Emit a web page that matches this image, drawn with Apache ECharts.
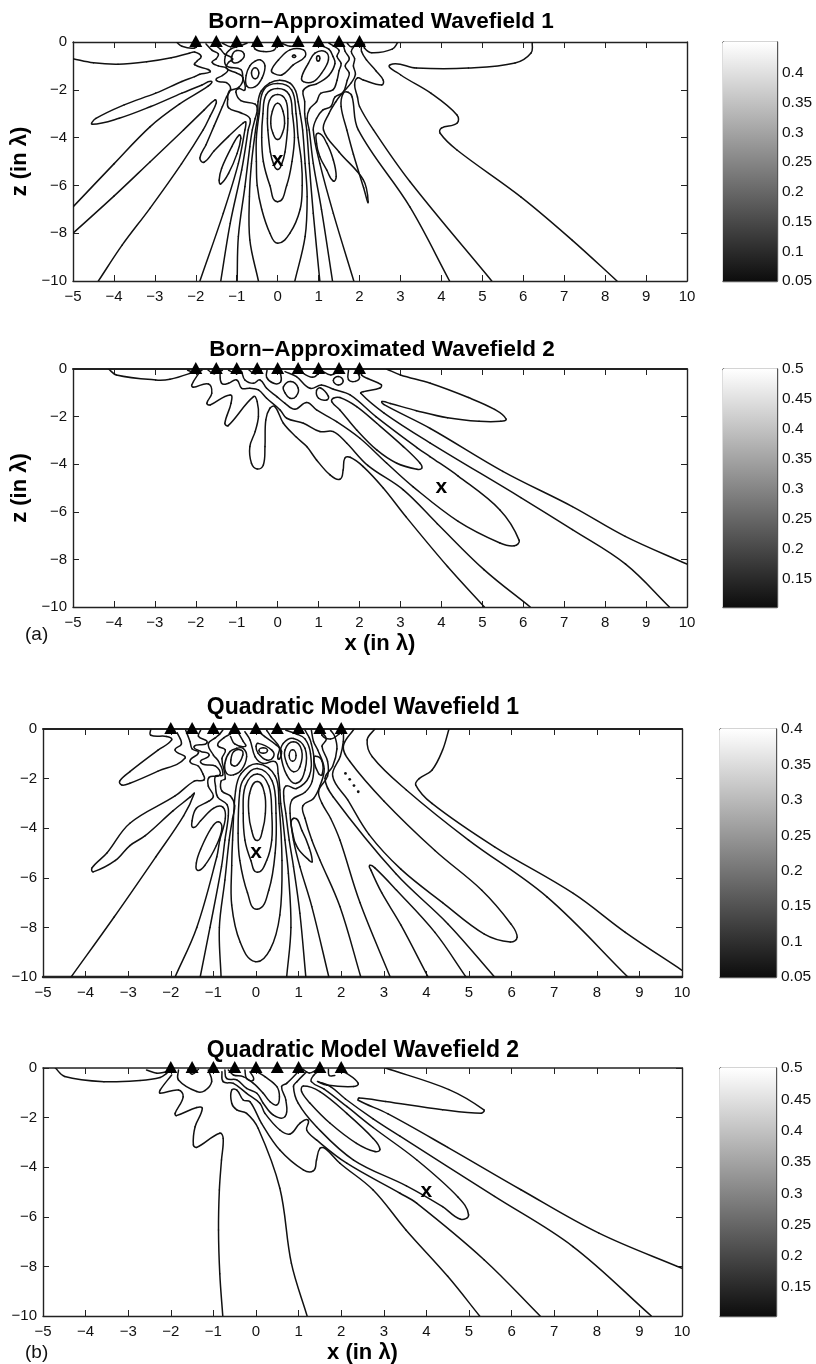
<!DOCTYPE html>
<html><head><meta charset="utf-8">
<script src="https://cdn.jsdelivr.net/npm/echarts@6/dist/echarts.min.js"></script>
<style>html,body{margin:0;padding:0;background:#fff}#c{width:816px;height:1364px}</style>
</head><body><div id="c"></div>
<script>
const xTicks=[-5,10], zTicks=[-10,0];
const sourceX=[-2,-1.5,-1,-.5,0,.5,1,1.5,2];
const titles=['Born–Approximated Wavefield 1','Born–Approximated Wavefield 2','Quadratic Model Wavefield 1','Quadratic Model Wavefield 2'];
const focus=[[0,-5],[4,-5],[0,-5],[4,-5]];
const cbRange=[[0.05,0.452],[0.102,0.5],[0.05,0.4],[0.104,0.5]];
const cbTicks=[
 [0.05,0.1,0.15,0.2,0.25,0.3,0.35,0.4],
 [0.15,0.2,0.25,0.3,0.35,0.4,0.45,0.5],
 [0.05,0.1,0.15,0.2,0.25,0.3,0.35,0.4],
 [0.15,0.2,0.25,0.3,0.35,0.4,0.45,0.5]];

const born1Open=[
 [[-5,-.7],[-4.5,-.87],[-3.9,-.93],[-3.2,-.83],[-2.6,-.66],[-2.16,-.47],[-2.03,-.42],[-1.87,-.6],[-1.97,-.8],[-2.03,-.95],[-1.7,-1.15],[-1.65,-1.25],[-1.9,-1.35],[-2.03,-1.45],[-2.34,-1.65],[-2.98,-2.14],[-3.75,-2.63],[-4.44,-3.2],[-4.53,-3.44],[-3.87,-3.19],[-3.1,-2.7],[-2.34,-2.14],[-1.85,-1.8],[-1.62,-1.65],[-1.7,-1.85],[-2.4,-2.6],[-3.12,-3.55],[-4,-5.1],[-5,-6.9]],
 [[-5,-8],[-4,-6.45],[-3.12,-5.02],[-2.3,-3.68],[-1.8,-2.85],[-1.53,-2.42],[-1.5,-2.55],[-1.65,-3.1],[-1.82,-3.68],[-2.35,-5.1],[-3.12,-6.96],[-3.8,-8.5],[-4.38,-10]],
 [[-1.75,-.08],[-1.6,-.35],[-1.45,-.5],[-1.5,-.7],[-1.6,-.85],[-1.45,-1],[-1.22,-1.15],[-1.35,-1.4],[-1.5,-1.6],[-1.25,-1.7],[-1.15,-1.95],[-1.25,-2.3],[-1.35,-2.7],[-1.55,-3.5],[-1.75,-4.3],[-1.9,-4.85],[-1.8,-5.03],[-1.55,-4.55],[-1.2,-3.95],[-.85,-3.4],[-.78,-3.35],[-.8,-3.68],[-.96,-5.08],[-1.33,-7.17],[-1.9,-10]],
 [[-1.55,-.1],[-1.4,-.3],[-1.3,-.5],[-1.1,-.7],[-1.2,-.85],[-1.25,-1.1],[-1,-1.3],[-.85,-1.5],[-.95,-1.9],[-1.18,-2.05],[-1.22,-2.4],[-1.2,-2.75],[-.92,-2.95],[-.68,-3.2],[-.72,-3.68],[-.88,-5.36],[-1.16,-7.59],[-1.39,-10]],
 [[-.75,-.05],[-.9,-.15],[-1.15,-.3],[-1.28,-.6],[-1.25,-1],[-.9,-1.15],[-.85,-1.5],[-.8,-2],[-.95,-1.95],[-1.02,-2.1],[-.9,-2.45],[-.55,-2.6],[-.5,-2.85],[-.55,-3.2],[-.62,-3.68],[-.68,-4.38],[-.8,-6.05],[-.96,-8.14],[-.99,-10]],
 [[-.47,-10],[-.68,-8.28],[-.69,-6.47],[-.64,-5.08],[-.54,-3.68],[-.48,-3],[-.48,-2.5],[-.4,-2.05],[-.2,-1.72],[.05,-1.6],[.3,-1.72],[.44,-2.05],[.5,-2.5],[.55,-3],[.61,-3.68],[.67,-5.08],[.72,-6.47],[.67,-8.14],[.42,-10]],
 [[.9,-.05],[1,-.12],[1.25,-.3],[1.35,-.6],[1.4,-.9],[1.25,-1.4],[.95,-1.75],[.75,-1.85],[.62,-2.05],[.66,-2.5],[.66,-3],[.71,-3.68],[.77,-5.08],[.87,-7.17],[1.03,-10]],
 [[1.25,-.05],[1.35,-.15],[1.5,-.35],[1.45,-.6],[1.55,-.9],[1.5,-1.2],[1.45,-1.6],[1.35,-2],[1.05,-2.15],[.95,-2.5],[.78,-2.8],[.72,-3.2],[.77,-3.68],[.87,-5.08],[1.07,-7],[1.34,-10]],
 [[1.6,-.1],[1.65,-.4],[1.75,-.7],[1.65,-1],[1.75,-1.3],[1.7,-1.6],[1.6,-2.1],[1.4,-2.3],[1.3,-2.7],[1.1,-2.85],[.95,-3.2],[.87,-3.68],[1.03,-5.08],[1.36,-7.17],[1.86,-10]],
 [[1.9,-.1],[1.8,-.4],[1.88,-.7],[1.85,-1],[1.9,-1.35],[1.8,-1.7],[1.55,-2.2],[1.42,-2.5],[1.25,-3],[1.12,-3.68],[1.5,-4.6],[2.09,-5.76],[2.21,-6.68],[2.1,-6.1],[1.85,-4.7],[1.69,-3.68],[1.55,-2.7],[1.6,-2.15],[1.72,-2.1],[1.82,-2.3],[1.97,-3.68],[3.23,-6.9],[4.2,-10]],
 [[2.05,-.1],[2.05,-.4],[2.17,-.75],[2.4,-1.2],[2.58,-1.6],[2.54,-1.8],[2.09,-1.59],[1.95,-1.5],[1.88,-1.8],[1.95,-2.3],[2,-2.7],[2.34,-3.68],[3.23,-5.84],[5.23,-10]],
 [[6.22,0],[6.19,-.46],[5.8,-.88],[4.66,-1.09],[3.39,-1.09],[2.75,-.95],[3,-1.37],[3.75,-2.15],[4.38,-3.05],[4.38,-3.4],[4,-3.6],[3.97,-3.82],[4.38,-4.52],[5.94,-6.48],[7.2,-8.3],[8.29,-10]],
 [[2.94,0],[2.8,-.3],[2.3,-.45],[2.12,-.25],[2.12,-.08]],
 [[-2.47,0],[-2.34,-.18],[-2.03,-.25],[-1.9,-.05]],
 [[-1.35,-.05],[-1.15,-.2],[-.95,-.1]],[[-.6,-.05],[-.55,-.3],[-.35,-.4],[-.1,-.35],[0,-.1]],
 [[.1,-.05],[.3,-.18],[.55,-.12]],[[1.7,-.06],[1.8,-.2],[2,-.06]]
];
const born1Closed=[
 [[0,-2.56],[.13,-2.9],[.17,-3.4],[.12,-3.8],[0,-4.08],[-.12,-3.8],[-.17,-3.4],[-.13,-2.9]],
 [[0,-2.2],[.2,-2.45],[.25,-3.2],[.24,-3.68],[.18,-4.6],[.1,-5.1],[0,-5.33],[-.1,-5.1],[-.18,-4.6],[-.24,-3.68],[-.25,-3.2],[-.2,-2.45]],
 [[0,-1.95],[.28,-2.2],[.36,-3],[.41,-4],[.35,-5],[.22,-6],[0,-6.68],[-.19,-6],[-.35,-5],[-.39,-4],[-.36,-3],[-.28,-2.2]],
 [[0,-1.74],[.34,-2],[.45,-3],[.5,-4],[.58,-5],[.6,-6],[.55,-7],[.3,-8],[0,-8.42],[-.19,-8],[-.39,-7],[-.5,-6],[-.52,-5],[-.52,-4],[-.45,-3],[-.34,-2]],
 [[-.94,-3.89],[-1.12,-4.38],[-1.37,-5.29],[-1.43,-5.78],[-1.39,-5.94],[-1.2,-5.5],[-.99,-4.66],[-.9,-4.03]],
 [[.99,-3.82],[1.2,-4.24],[1.36,-4.94],[1.43,-5.63],[1.36,-5.82],[1.2,-5.36],[1.03,-4.8],[.95,-4.24]],
 [[-.55,-1.08],[-.46,-1.3],[-.55,-1.54],[-.64,-1.3]],
 [[-.42,-.75],[-.31,-1],[-.38,-1.5],[-.55,-1.87],[-.75,-1.85],[-.77,-1.4],[-.68,-1],[-.55,-.8]],
 [[-1,-.36],[-.82,-.5],[-.9,-.78],[-1.08,-.86],[-1.12,-.6]],
 [[-.15,-1.17],[.02,-.75],[.3,-.33],[.63,-.33],[.67,-.61],[.38,-.96],[.1,-1.38],[-.1,-1.31]],
 [[.59,-1.45],[.75,-.89],[.91,-.47],[1.16,-.4],[1.24,-.75],[1.07,-1.31],[.87,-1.66],[.63,-1.66]],
 [[.4,-.54],[.44,-.6],[.4,-.65],[.36,-.6]],
 [[.99,-.58],[1.03,-.68],[.99,-.8],[.95,-.68]]
];

const born2Open=[
 [[-4.13,0],[-3.94,-.25],[-2.98,-.46],[-2.63,-.43],[-2.14,-.18],[-1.98,-.04]],
 [[-1.9,-.11],[-2.1,-.67],[-2.06,-.77],[-1.69,-.63],[-1.61,-1.02],[-1.73,-1.44],[-1.65,-1.51],[-1.16,-1.09],[-1.14,-1.44],[-1.29,-2.28],[-1.21,-2.38],[-.59,-1.16],[-.5,-1.37],[-.47,-2],[-.55,-2.63],[-.68,-3.26],[-.64,-3.96],[-.5,-4.2],[-.35,-4.03],[-.31,-3.26],[-.29,-2.14],[-.19,-1.65],[-.07,-1.58],[.14,-2.28],[.46,-2.87],[.71,-3.26],[.95,-3.82],[1.28,-4.45],[1.52,-4.63],[1.6,-4.24],[1.64,-3.75],[1.77,-3.71],[2.09,-4.1],[2.58,-5],[3.13,-6.2],[4.15,-8.3],[5.05,-10]],
 [[-1.41,-.11],[-1.37,-.6],[-1.2,-.6],[-1,-.46],[-.88,-.81],[-.68,-.81],[-.47,-.88],[-.27,-1.23],[.06,-1.72],[.22,-2.07],[.63,-2.28],[1.03,-2.63],[1.36,-2.63],[1.69,-3.12],[2.2,-4.05],[3.07,-5.08],[3.9,-6.5],[5.04,-8.43],[6.17,-10]],
 [[-.88,-.11],[-.8,-.46],[-.59,-.6],[-.43,-.46],[-.27,-.81],[-.02,-1.16],[.18,-1.44],[.42,-1.69],[.71,-1.41],[.95,-1.72],[1.44,-2.21],[2.01,-2.91],[2.66,-3.95],[3.31,-4.95],[4.41,-6.4],[5.43,-7.31],[5.78,-7.43],[5.9,-7.2],[5.43,-5.92],[4.41,-4.5],[3.72,-3.68],[3.4,-3.3],[2.4,-2],[1.77,-1.09],[1.36,-.85],[1.07,-.67],[.79,-.81],[.46,-.32],[.18,-.11]],
 [[2.66,0],[3,-.25],[3.73,-.6],[4.66,-1.2],[5.3,-1.7],[5.58,-2.1],[5.45,-2.2],[4.92,-2.2],[4.15,-2.05],[3.39,-1.75],[2.75,-1.45],[2.55,-1.37],[2.6,-1.5],[3.73,-2.5],[5.5,-4.3],[7.2,-5.78],[8.49,-7.03],[10,-8.2]],
 [[2.05,-.05],[2.05,-.25],[2.2,-.4],[2.53,-.66],[2.5,-.8],[2.1,-.95],[2.03,-1.02],[2.6,-1.85],[3.72,-3.1],[5.94,-5.4],[7.2,-6.75],[8.5,-8.2],[9.57,-10]],
 [[-.26,-.05],[-.27,-.35],[-.1,-.6],[.07,-.55],[.07,-.2],[.02,-.05]],
 [[1.73,-.05],[1.73,-.45],[1.9,-.52],[2,-.35],[1.9,-.05]],
 [[-2.2,-.05],[-2,-.15],[-1.85,-.05]],[[-1.7,-.05],[-1.55,-.2],[-1.35,-.05]],[[-1.2,-.05],[-1,-.2],[-.9,-.05]],[[-.7,-.05],[-.55,-.2],[-.4,-.05]],
 [[1.05,-.05],[1.3,-.25],[1.55,-.05]],[[.5,-.05],[.85,-.35],[1.05,-.1]]
];
const born2Closed=[
 [[1.36,-1.23],[1.52,-1.2],[1.93,-1.58],[2.42,-2.28],[3.07,-3.26],[3.48,-3.96],[3.52,-4.17],[3.4,-4.21],[2.91,-3.96],[2.42,-3.4],[1.93,-2.56],[1.52,-1.72],[1.32,-1.37]],
 [[1.36,-.48],[1.48,-.32],[1.6,-.5],[1.48,-.67]],
 [[.95,-.9],[1.05,-.8],[1.24,-1.15],[1.2,-1.3],[1,-1.23]],
 [[.14,-.75],[.32,-.53],[.5,-.8],[.45,-1.15],[.3,-1.23],[.18,-1]]
];

const quad1Open=[
 [[-2.47,0],[-2.47,-.25],[-2.1,-.3],[-1.98,-.44],[-2.3,-.85],[-2.96,-1.72],[-3.2,-2.1],[-3.15,-2.26],[-2.96,-2.19],[-2.3,-1.7],[-1.67,-1.18],[-1.9,-.85],[-1.75,-.6],[-1.85,-.15]],
 [[-1.65,-.05],[-1.55,-.5],[-1.5,-.8],[-1.35,-.95],[-1.55,-1.3],[-1.35,-1.5],[-1.25,-1.8],[-1.22,-2.05],[-1.45,-2.1],[-1.9,-2.7],[-2.96,-3.8],[-3.5,-5],[-3.85,-5.6],[-3.82,-5.76],[-3.3,-5.3],[-2.96,-4.7],[-2.6,-4.3],[-1.95,-3.3],[-1.55,-2.75],[-1.45,-2.6],[-1.7,-3.5],[-2.35,-5.15],[-3.33,-7.58],[-4.34,-10]],
 [[-1.9,-10],[-1.39,-8],[-.92,-5.15],[-.85,-4.48],[-.72,-3.6],[-.78,-3.15],[-1,-3.2],[-1.3,-3.7],[-1.47,-3.97],[-1.5,-3.7],[-1.4,-3.2],[-1.1,-2.9],[-1,-2.7],[-1.12,-2.3],[-1.1,-1.95],[-.85,-1.85],[-.95,-1.5],[-1.3,-1.35],[-1.1,-1.05],[-1.3,-.9],[-1.45,-.7],[-1.15,-.55],[-1.35,-.3],[-1.3,-.05]],
 [[-1.31,-10],[-1.08,-8],[-.81,-5.55],[-.73,-4.48],[-.65,-3.5],[-.68,-3.05],[-.9,-2.75],[-.95,-2.3],[-.95,-1.9],[-.78,-1.85],[-.88,-1.3],[-1,-1.05],[-1.12,-.6],[-.95,-.35],[-.85,-.2],[-.78,-.05]],
 [[-.82,-10],[-.86,-8],[-.73,-6.09],[-.63,-4.48],[-.55,-3.6],[-.5,-3.1],[-.6,-2.7],[-.8,-2.5],[-.82,-2.1],[-.72,-2],[-.8,-1.2],[-.72,-.85],[-.9,-.65],[-.75,-.35],[-.6,-.2],[-.5,-.05]],
 [[.72,-10],[.82,-8],[.76,-5.82],[.68,-4.48],[.62,-3.5],[.58,-3],[.56,-2.46],[.52,-1.79],[.45,-1.32],[.17,-1.39],[-.02,-1.12],[-.14,-.44],[-.26,-.11]],
 [[1.17,-10],[1.03,-7.43],[.88,-5.55],[.78,-4.48],[.7,-3.4],[.65,-2.7],[.7,-2.3],[.95,-2.4],[1.25,-1.9],[1.28,-1],[1.15,-.4],[.95,-.2],[.7,-.05]],
 [[1.71,-10],[1.31,-7.16],[1.03,-5.55],[.88,-4.48],[.8,-3.4],[.85,-2.85],[1.15,-2.55],[1.32,-2.1],[1.36,-1.2],[1.3,-.6],[1.25,-.35],[1.15,-.05]],
 [[2.46,-10],[1.97,-7.16],[1.5,-5.28],[1.31,-4.48],[1.15,-3.6],[1.1,-3.1],[1.35,-2.8],[1.5,-2.3],[1.6,-1.6],[1.45,-.85],[1.35,-.5],[1.3,-.05]],
 [[3.15,-10],[2.44,-7],[1.97,-4.48],[1.75,-3.6],[1.55,-3],[1.47,-2.5],[1.68,-1.9],[1.68,-1.3],[1.55,-.7],[1.65,-.4],[1.5,-.05]],
 [[4.04,-10],[3.4,-7.9],[2.95,-6.6],[2.7,-5.7],[2.67,-5.5],[2.79,-5.6],[3.3,-6.5],[4.2,-8.2],[4.93,-10]],
 [[5.6,-10],[4.5,-7.85],[3.28,-5.83],[1.81,-2.73],[1.62,-2],[1.8,-1.5],[1.9,-.8],[1.85,-.3],[1.75,-.05]],
 [[2.3,0],[2.05,-.7],[2.2,-1.3],[3,-2.9],[4.2,-4.9],[5.3,-6.5],[5.98,-7.85],[6.13,-8.4],[5.97,-8.59],[5.36,-8.27],[4.38,-7],[3.4,-5.65],[2.65,-4.25],[2.15,-2.85],[1.8,-1.9],[1.98,-1.1],[2.05,-.5],[2.05,-.05]],
 [[2.79,0],[2.61,-.44],[2.73,-1.12],[3.53,-2.46],[4.99,-4.48],[6.83,-6.77],[8.73,-10]],
 [[4.53,0],[4.38,-.85],[4.13,-1.66],[3.83,-2],[3.75,-2.26],[4.13,-3],[5.6,-4.75],[7.45,-6.63],[8.67,-8.2],[10,-9.73]],
 [[1.6,-.03],[1.55,-.25],[1.75,-.4],[1.95,-.2],[2,-.03]],
 [[-.45,-.05],[-.3,-.5],[-.25,-.7],[-.5,-.6],[-.6,-.3]],
 [[.02,-.05],[.2,-.3],[.48,-.65],[.6,-.9],[.52,-1.2],[.55,-.75],[.35,-.3],[.25,-.05]]
];
const quad1Closed=[
 [[.03,-2.12],[.2,-2.6],[.22,-3.4],[.15,-4.1],[.03,-4.5],[-.1,-4.1],[-.17,-3.4],[-.15,-2.6]],
 [[.03,-1.81],[.3,-2.3],[.37,-3.4],[.37,-4.48],[.25,-5.3],[.03,-5.78],[-.12,-5.3],[-.26,-4.48],[-.3,-3.4],[-.25,-2.3]],
 [[.03,-1.59],[.38,-2.1],[.47,-3.4],[.45,-5],[.3,-6.5],[.03,-7.27],[-.2,-6.6],[-.38,-5.3],[-.42,-4.2],[-.38,-2.5],[-.28,-2]],
 [[.03,-1.4],[.45,-1.9],[.54,-3],[.61,-5.3],[.56,-7.5],[.33,-8.9],[-.02,-9.38],[-.37,-8.6],[-.57,-7.1],[-.57,-5.5],[-.55,-4.48],[-.48,-2.5],[-.35,-1.8]],
 [[-.88,-3.74],[-.8,-4],[-.93,-4.7],[-1.2,-5.5],[-1.37,-5.7],[-1.4,-5.4],[-1.3,-4.85],[-1.05,-4]],
 [[.89,-3.6],[1.08,-4.1],[1.25,-4.8],[1.32,-5.35],[1.25,-5.3],[.98,-4.8],[.86,-4.2]],
 [[-.35,-.85],[-.31,-1.05],[-.44,-1.45],[-.57,-1.45],[-.59,-1.25],[-.52,-.91]],
 [[-.3,-.78],[-.22,-1.12],[-.34,-1.65],[-.53,-1.85],[-.69,-1.79],[-.73,-1.38],[-.61,-.91],[-.45,-.78]],
 [[.17,-.76],[.27,-.87],[.17,-.98],[.07,-.87]],
 [[.05,-.58],[.37,-.85],[.41,-1.12],[.25,-1.25],[.05,-.98],[0,-.71]],
 [[.86,-.84],[.94,-1.07],[.86,-1.3],[.78,-1.07]],
 [[.88,-.51],[1.07,-.85],[1.03,-1.52],[.88,-1.72],[.72,-1.38],[.68,-.85]],
 [[.88,-.38],[1.15,-.78],[1.15,-1.65],[.95,-2.19],[.72,-1.85],[.58,-.98],[.64,-.58]],
 [[1.39,-1.1],[1.55,-1.3],[1.55,-1.85],[1.47,-1.8],[1.36,-1.3]]
];
const quad1Dots=[[2.1,-1.79],[2.2,-2.03],[2.3,-2.28],[2.4,-2.53]];

const quad2Open=[
 [[-4.71,0],[-4.49,-.34],[-3.57,-.55],[-2.72,-.5],[-2.25,-.38],[-2.1,-.22],[-2.02,-.08]],
 [[-2.57,-.08],[-2.33,-.21],[-2.1,-.15]],
 [[-1.98,-.28],[-2.25,-.89],[-2.25,-1.02],[-1.82,-.89],[-1.71,-1.16],[-1.9,-1.83],[-1.87,-1.92],[-1.39,-1.59],[-1.26,-1.63],[-1.43,-2.37],[-1.47,-3.1],[-1.39,-3.2],[-.85,-2.63],[-.77,-2.84],[-.81,-3.71],[-.86,-4.92],[-.88,-6.53],[-.85,-8.3],[-.78,-10]],
 [[-1.82,-.08],[-1.82,-.48],[-1.39,-.95],[-1.2,-.91],[-1.04,-.55],[-1.12,-.08]],
 [[1.2,-10],[.83,-7.87],[.56,-4.85],[.05,-2.43],[-.22,-1.83],[-.45,-1.69],[-.57,-1.42],[-.57,-.89],[-.45,-.89],[-.3,-1.29],[-.14,-1.36],[.13,-2.23],[.56,-3.31],[1.11,-4.11],[1.35,-4.14],[1.42,-3.71],[1.5,-3.24],[1.62,-3.24],[1.97,-3.84],[2.75,-4.92],[3.52,-6.53],[4.5,-8.4],[5.25,-10]],
 [[-.8,-.15],[-.77,-.55],[-.53,-.62],[-.22,-1.02],[.09,-1.42],[.21,-1.83],[.56,-2.5],[.8,-2.66],[1.03,-2.23],[1.22,-2.1],[1.19,-2.5],[1.42,-2.9],[2.13,-3.84],[3.38,-5.05],[3.77,-5.45],[5.36,-7.74],[6.67,-10]],
 [[-.73,-.08],[-.69,-.42],[-.45,-.48],[-.22,-.82],[.02,-1.02],[.17,-1.42],[.41,-1.9],[.68,-1.96],[.7,-1.29],[.6,-.75],[.72,-.62],[1.03,-.08]],
 [[-.65,-.08],[-.53,-.28],[-.3,-.35],[-.06,-.62],[.17,-1.02],[.33,-1.36],[.49,-1.49],[.55,-1.16],[.49,-.75],[.21,-.35],[.02,-.15]],
 [[-.26,-.08],[-.22,-.42],[-.06,-.48],[-.14,-.15]],
 [[1.19,-.15],[.96,-.55],[.88,-.75],[.99,-1.42],[1.42,-2.37],[2.29,-3.71],[3.53,-4.75],[4.38,-5.59],[4.8,-6.1],[4.99,-5.92],[4.74,-5.2],[3.77,-3.7],[2.75,-2.4],[2.13,-1.55],[1.6,-.85],[1.3,-.55],[1.35,-.3],[1.5,-.08]],
 [[1.93,-.08],[2.13,-.22],[2.4,-.62],[2.29,-.75],[1.66,-.69],[1.46,-.55],[1.75,-.75],[2.1,-1.25],[2.75,-2.05],[3.38,-2.75],[5.6,-5.18],[7.44,-7.2],[9.28,-10]],
 [[3.04,0],[4.53,-.87],[5.35,-1.69],[5.29,-1.82],[4.38,-1.68],[3.04,-1.35],[2.42,-1.21],[2.4,-1.3],[3.1,-1.85],[4.5,-3.2],[6.22,-4.91],[8.05,-6.66],[10,-8.08]],
 [[1.7,-.05],[1.72,-.3],[1.85,-.3]],[[1.1,-.05],[1.25,-.2],[1.4,-.1]],[[-1.6,-.05],[-1.5,-.25],[-1.35,-.05]]
];
const quad2Closed=[
 [[1.11,-.73],[1.5,-.95],[2.13,-1.83],[2.75,-2.84],[2.91,-3.28],[2.79,-3.37],[2.36,-3.04],[1.74,-2.23],[1.27,-1.42],[1.07,-.95]]
];

const openSets=[born1Open,born2Open,quad1Open,quad2Open];
const closedSets=[born1Closed,born2Closed,quad1Closed,quad2Closed];
const dotSets=[[],[],quad1Dots,[]];

const plotBox=[[73,42,614,239],[73,369,614,238],[43,729,639,248],[43,1068,639,248]];
const cbBox=[[723,42,54,239],[723,369,54,238],[720,729,56,248],[720,1068,56,248]];
const titleBox=[[376,5,22.5],[377,333,22.5],[358,691,23],[358,1034,23]];
const topWidth=[1.4,2,2,1.6], bottomWidth=[1.4,1.4,2.4,1.4];
const ink='#111', axisInk='#222', font='"Liberation Sans",Arial,sans-serif';
const minus=v=>String(v).replace('-','\u2212');

/* One curve per traced contour: the read points are placed by the axis scales,
   and joined with chord-scaled tangents so tips stay round and do not overshoot. */
function contourSeries(xA,yA,pts,closed){
  const n=pts.length;
  return {type:'custom',coordinateSystem:'cartesian2d',xAxisIndex:xA,yAxisIndex:yA,data:pts,encode:{x:0,y:1},clip:true,silent:true,z:2,
    renderItem:(p,api)=>{
      const i=p.dataIndex;
      if(!closed && i===n-1) return null;
      const at=k=>api.coord(pts[closed?(k+n)%n:Math.max(0,Math.min(n-1,k))]);
      const a=at(i-1),b=at(i),c=at(i+1),d=at(i+2);
      const len=Math.hypot(c[0]-b[0],c[1]-b[1]);
      const tan=(u,v)=>{const dx=v[0]-u[0],dy=v[1]-u[1],l=Math.hypot(dx,dy)||1;return [dx/l,dy/l];};
      const t0=tan(a,c),t1=tan(b,d),k=len*0.36;
      return {type:'bezierCurve',shape:{x1:b[0],y1:b[1],x2:c[0],y2:c[1],
        cpx1:b[0]+t0[0]*k,cpy1:b[1]+t0[1]*k,cpx2:c[0]-t1[0]*k,cpy2:c[1]-t1[1]*k},
        style:{fill:null,stroke:ink,lineWidth:1.5,lineCap:'round'}};
    }};
}

const grid=[],xAxis=[],yAxis=[],series=[],title=[];
plotBox.forEach((b,i)=>{
  const g=grid.length;
  grid.push({left:b[0],top:b[1],width:b[2],height:b[3],outerBoundsMode:'none'});
  const xA=xAxis.length,yA=yAxis.length;
  const axisBase={gridIndex:g,splitLine:{show:false},axisLine:{onZero:false,lineStyle:{color:axisInk,width:1.4}},
    axisTick:{inside:true,length:6,lineStyle:{color:axisInk,width:1}}};
  const xName=(i===1||i===3)?'x (in \u03bb)':'';
  xAxis.push({...axisBase,type:'value',position:'bottom',min:xTicks[0],max:xTicks[1],interval:1,
    axisLine:{onZero:false,lineStyle:{color:axisInk,width:bottomWidth[i]}},
    name:xName,nameLocation:'middle',nameGap:26,nameTextStyle:{fontFamily:font,fontWeight:'bold',fontSize:22,color:'#000'},
    axisLabel:{margin:8,formatter:minus,fontFamily:font,fontSize:15,color:'#111',hideOverlap:false}});
  xAxis.push({...axisBase,type:'value',position:'top',min:xTicks[0],max:xTicks[1],interval:1,
    axisLine:{onZero:false,lineStyle:{color:axisInk,width:topWidth[i]}},axisLabel:{show:false}});
  const zName=i<2?'z (in \u03bb)':'';
  yAxis.push({...axisBase,type:'value',position:'left',min:zTicks[0],max:zTicks[1],interval:2,
    name:zName,nameLocation:'middle',nameRotate:90,nameGap:41,nameTextStyle:{fontFamily:font,fontWeight:'bold',fontSize:22,color:'#000'},
    axisLabel:{margin:6,formatter:minus,fontFamily:font,fontSize:15,color:'#111'}});
  yAxis.push({...axisBase,type:'value',position:'right',min:zTicks[0],max:zTicks[1],interval:2,axisLabel:{show:false}});

  openSets[i].forEach(p=>series.push(contourSeries(xA,yA,p,false)));
  closedSets[i].forEach(p=>series.push(contourSeries(xA,yA,p,true)));
  if(dotSets[i].length) series.push({type:'scatter',xAxisIndex:xA,yAxisIndex:yA,data:dotSets[i],symbol:'circle',symbolSize:2.8,itemStyle:{color:ink,opacity:1},silent:true});
  series.push({type:'scatter',xAxisIndex:xA,yAxisIndex:yA,data:sourceX.map(x=>[x,0]),symbol:'triangle',symbolSize:[13,12],symbolOffset:[0,-1],
     itemStyle:{color:'#000',opacity:1},clip:false,silent:true,z:5});
  series.push({type:'scatter',xAxisIndex:xA,yAxisIndex:yA,data:[focus[i]],symbolSize:1,itemStyle:{color:'rgba(0,0,0,0)',opacity:1},silent:true,z:6,
     label:{show:true,position:'inside',formatter:'x',fontFamily:font,fontWeight:'bold',fontSize:21,color:'#000',opacity:1,offset:[0,-1]}});
  title.push({text:titles[i],left:titleBox[i][0],top:titleBox[i][1],textAlign:'center',textStyle:{fontFamily:font,fontWeight:'bold',fontSize:titleBox[i][2],color:'#000'}});

  const c=cbBox[i],cg=grid.length;
  grid.push({left:c[0],top:c[1],width:c[2],height:c[3],outerBoundsMode:'none'});
  const cx=xAxis.length,cy=yAxis.length;
  const cbLine={onZero:false,lineStyle:{color:'#555',width:1.4}};
  const cbTick={inside:true,length:3,lineStyle:{color:'#555',width:1},customValues:cbTicks[i]};
  xAxis.push({gridIndex:cg,type:'value',position:'bottom',min:0,max:1,axisLabel:{show:false},axisTick:{show:false},splitLine:{show:false},axisLine:cbLine});
  xAxis.push({gridIndex:cg,type:'value',position:'top',min:0,max:1,axisLabel:{show:false},axisTick:{show:false},splitLine:{show:false},axisLine:cbLine});
  yAxis.push({gridIndex:cg,type:'value',position:'right',min:cbRange[i][0],max:cbRange[i][1],splitLine:{show:false},axisLine:cbLine,axisTick:cbTick,
     axisLabel:{customValues:cbTicks[i],margin:5,fontFamily:font,fontSize:15.5,color:'#111',hideOverlap:false,showMinLabel:true,showMaxLabel:true}});
  yAxis.push({gridIndex:cg,type:'value',position:'left',min:cbRange[i][0],max:cbRange[i][1],splitLine:{show:false},axisLine:cbLine,axisTick:cbTick,axisLabel:{show:false}});
  series.push({type:'custom',xAxisIndex:cx,yAxisIndex:cy,data:[[0,cbRange[i][0],1,cbRange[i][1]]],silent:true,z:1,
    renderItem:(p,api)=>{
      const a=api.coord([api.value(0),api.value(1)]),d=api.coord([api.value(2),api.value(3)]);
      return {type:'rect',shape:{x:a[0],y:d[1],width:d[0]-a[0],height:a[1]-d[1]},
        style:{fill:new echarts.graphic.LinearGradient(0,1,0,0,[{offset:0,color:'#0d0d0d'},{offset:1,color:'#ffffff'}])}};
    }});
});
title.push({text:'(a)',left:20,top:620,textStyle:{fontFamily:font,fontWeight:'normal',fontSize:19,color:'#111'}});
title.push({text:'(b)',left:20,top:1338,textStyle:{fontFamily:font,fontWeight:'normal',fontSize:19,color:'#111'}});

const chart=echarts.init(document.getElementById('c'),null,{renderer:'canvas'});
chart.setOption({animation:false,backgroundColor:'#fff',title,grid,xAxis,yAxis,series});
</script></body></html>
